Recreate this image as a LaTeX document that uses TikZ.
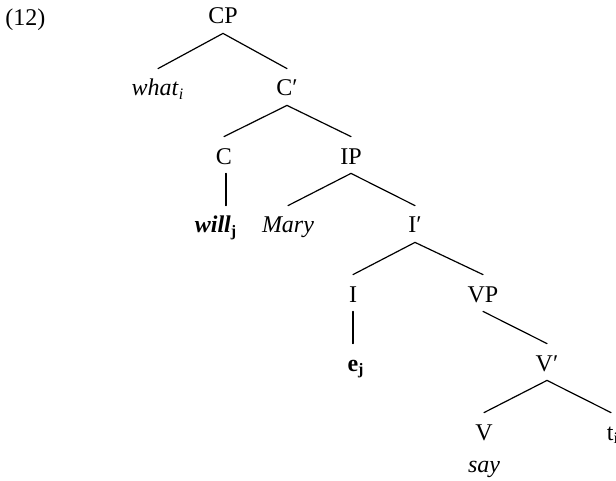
\documentclass[tikz,border=0pt]{standalone}
\usepackage{fontspec}
\setmainfont{Liberation Serif}
\usepackage{tikz}
\usetikzlibrary{positioning}

\begin{document}
\begin{tikzpicture}[x=0.5pt, y=-0.5pt,
    cat/.style={inner sep=0pt, text height=13.5pt, text depth=4.5pt, anchor=base,
                font=\fontsize{12}{14}\selectfont},
    branch/.style={line width=0.6pt, line cap=round}
]
\useasboundingbox (0,0) rectangle (616,481);

\node[cat, anchor=base west] (ex) at (5,26) {(12)};

\node[cat] (cp)   at (223,24)  {CP};
\node[cat] (what) at (158,96)  {\textit{what}\textsubscript{\textit{i}}};
\node[cat] (cbar) at (287,96)  {C′};
\node[cat] (c)    at (224,164) {C};
\node[cat] (ip)   at (351,164) {IP};
\node[cat] (will) at (216,233) {\textbf{\textit{will}}\textsubscript{\textbf{j}}};
\node[cat] (mary) at (288,233) {\textit{Mary}};
\node[cat] (ibar) at (415,233) {I′};
\node[cat] (i)    at (353,302) {I};
\node[cat] (vp)   at (483,302) {VP};
\node[cat] (e)    at (356,371) {\textbf{e}\textsubscript{\textbf{j}}};
\node[cat] (vbar) at (547,371) {V′};
\node[cat] (v)    at (484,440) {V};
\node[cat] (t)    at (613,440) {t\textsubscript{i}};
\node[cat] (say)  at (484,472) {\textit{say}};

\draw[branch] (cp.south) -- (what.north);
\draw[branch] (cp.south) -- (cbar.north);
\draw[branch] (cbar.south) -- (c.north);
\draw[branch] (cbar.south) -- (ip.north);
\draw[branch] ([xshift=1pt]c.south) -- ([xshift=1pt]c.south |- will.north);
\draw[branch] (ip.south) -- (mary.north);
\draw[branch] (ip.south) -- (ibar.north);
\draw[branch] (ibar.south) -- (i.north);
\draw[branch] (ibar.south) -- (vp.north);
\draw[branch] (i.south) -- (i.south |- e.north);
\draw[branch] (vp.south) -- (vbar.north);
\draw[branch] (vbar.south) -- (v.north);
\draw[branch] (vbar.south) -- ([xshift=-1pt]t.north);
\end{tikzpicture}
\end{document}
